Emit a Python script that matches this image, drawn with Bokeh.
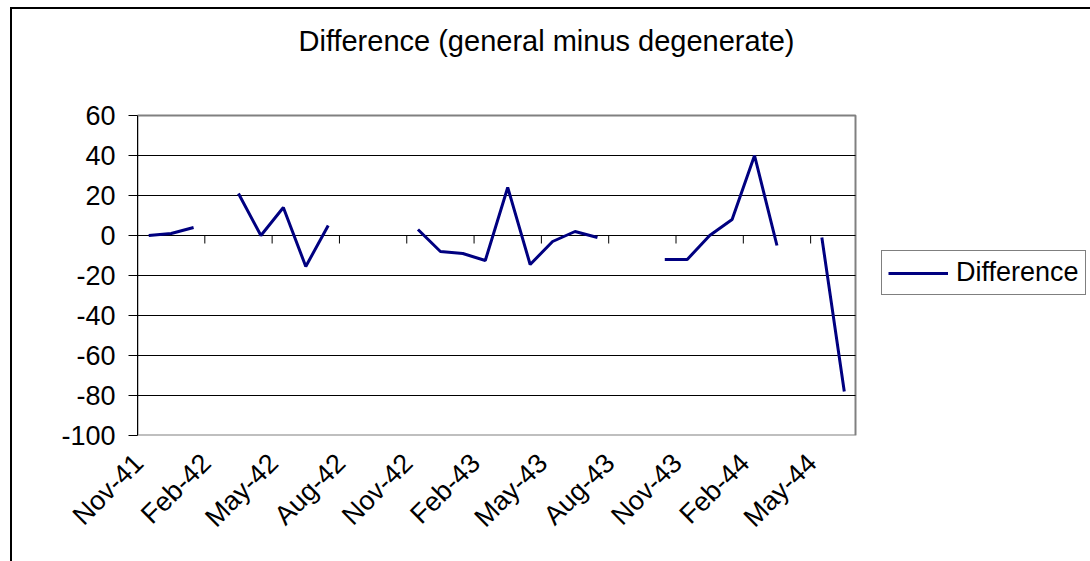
import math
from bokeh.plotting import figure
from bokeh.models import (ColumnDataSource, FixedTicker, Legend, LegendItem,
                          Range1d, InlineStyleSheet, BoxAnnotation, Label)
from bokeh.embed import file_html
from bokeh.resources import INLINE

nan = float("nan")

months = ["Nov-41", "Dec-41", "Jan-42", "Feb-42", "Mar-42", "Apr-42", "May-42",
          "Jun-42", "Jul-42", "Aug-42", "Sep-42", "Oct-42", "Nov-42", "Dec-42",
          "Jan-43", "Feb-43", "Mar-43", "Apr-43", "May-43", "Jun-43", "Jul-43",
          "Aug-43", "Sep-43", "Oct-43", "Nov-43", "Dec-43", "Jan-44", "Feb-44",
          "Mar-44", "Apr-44", "May-44", "Jun-44"]
difference = [0, 1, 4, nan, 21, 0, 14, -15.5, 5, nan, nan, nan,
              3, -8, -9, -12.5, 24, -14.5, -3, 2, -1, nan, nan, -12,
              -12, 0, 8, 40, -5, nan, -1, -78]
y_ticks = [-100, -80, -60, -40, -20, 0, 20, 40, 60]
y_min, y_max = -100, 60
label_step = 3

FONT = "Liberation Sans"
FS = "27px"

n = len(months)
xs = [i + 0.5 for i in range(n)]
src = ColumnDataSource(data=dict(x=xs, y=difference, month=months))

# layout in pixels: plot area 137..855 x 115..435 of a 1090x561 chart;
# the bokeh frame extends right/up to hold the title and legend
W, H = 1090, 561
AREA_L, AREA_R, AREA_T, AREA_B = 137, 855, 115, 435
px_x = (AREA_R - AREA_L) / n
px_y = (AREA_B - AREA_T) / (y_max - y_min)
x_end = n + (W - AREA_R) / px_x
y_top = y_max + AREA_T / px_y

p = figure(width=W, height=H, x_range=Range1d(0, x_end), y_range=Range1d(y_min, y_top),
           output_backend="svg", toolbar_location=None,
           min_border_left=AREA_L, min_border_right=0, min_border_top=0,
           min_border_bottom=H - AREA_B)
p.title.visible = False
p.background_fill_color = "white"
p.border_fill_color = "white"
p.outline_line_color = None

# x axis (labels low, rotated)
label_idx = list(range(0, n, label_step))
label_pos = [xs[i] - 0.44 for i in label_idx]
p.xaxis.ticker = FixedTicker(ticks=label_pos)
p.xaxis.major_label_overrides = {pos: months[i] for pos, i in zip(label_pos, label_idx)}
p.xaxis.major_label_orientation = math.pi / 4
p.xaxis.axis_line_color = None
p.xaxis.major_tick_line_color = None
p.xaxis.minor_tick_line_color = None
p.xaxis.major_tick_out = 0
p.xaxis.major_tick_in = 0
p.xaxis.major_label_standoff = 23
p.xaxis.major_label_text_font = FONT
p.xaxis.major_label_text_font_size = FS
p.xaxis.major_label_text_color = "black"
p.xgrid.visible = False

# y axis
p.yaxis.bounds = (y_min, y_max)
p.yaxis.ticker = FixedTicker(ticks=y_ticks)
p.yaxis.major_label_overrides = {t: str(t) for t in y_ticks}
p.yaxis.major_tick_out = 9
p.yaxis.major_tick_in = 0
p.yaxis.minor_tick_line_color = None
p.yaxis.axis_line_color = "black"
p.yaxis.major_tick_line_color = "black"
p.yaxis.major_label_standoff = 13
p.yaxis.major_label_text_font = FONT
p.yaxis.major_label_text_font_size = FS
p.yaxis.major_label_text_color = "black"
p.ygrid.visible = False

# plot-area border (grey)
area = BoxAnnotation(left=0, right=n, top=y_max, bottom=y_min,
                     fill_alpha=0, line_color="#808080", line_alpha=1,
                     line_width=2, level="underlay")
p.add_layout(area)

# horizontal gridlines across the plot area only
grid_vals = [t for t in y_ticks if y_min < t < y_max]
p.segment(x0=[0] * len(grid_vals), y0=grid_vals, x1=[n] * len(grid_vals), y1=grid_vals,
          line_color="black", line_width=1)

# category axis at y = 0 with tick marks between categories
tick_pos = list(range(0, n, label_step))
p.segment(x0=tick_pos, y0=[0] * len(tick_pos), x1=tick_pos, y1=[-4] * len(tick_pos),
          line_color="black", line_width=1)

r = p.line("x", "y", source=src, line_color="#000080", line_width=3)

# title
p.add_layout(Label(x=546 - AREA_L, y=AREA_B - 40, x_units="screen", y_units="screen",
                   text="Difference (general minus degenerate)",
                   text_align="center", text_baseline="middle",
                   text_font=FONT, text_font_size="29px", text_color="black"))

legend = Legend(items=[LegendItem(label="Difference", renderers=[r])],
                location=(881 - AREA_L, AREA_B - 295), orientation="vertical")
legend.label_text_font = FONT
legend.label_text_font_size = FS
legend.label_text_color = "black"
legend.border_line_color = "black"
legend.border_line_width = 1
legend.background_fill_color = "white"
legend.background_fill_alpha = 1
legend.padding = 6
legend.margin = 0
legend.glyph_width = 60
legend.label_standoff = 8
legend.spacing = 0
p.add_layout(legend)

# outer chart-area frame (left and top edges visible in the reference)
p.stylesheets = [InlineStyleSheet(css=(
    ":host { position: relative; }"
    ":host::after { content: ''; position: absolute; left: 10px; top: 7px; right: 0; bottom: 0;"
    " border-left: 2px solid black; border-top: 2px solid black; pointer-events: none; }"))]

open("out.html", "w").write(file_html(p, INLINE))
